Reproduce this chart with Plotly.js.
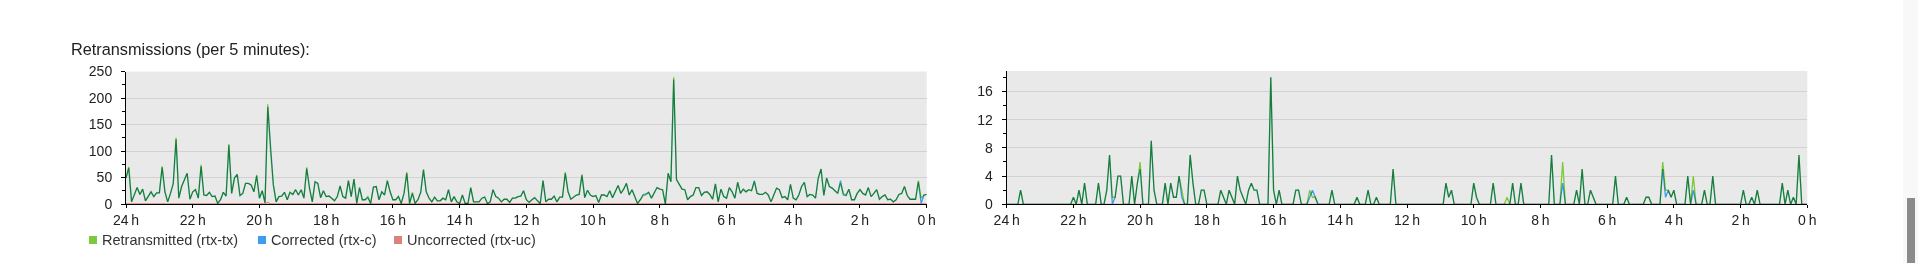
<!DOCTYPE html>
<html><head><meta charset="utf-8">
<script src="https://cdn.plot.ly/plotly-3.0.1.min.js"></script>
<style>
html,body{margin:0;padding:0;background:#fff;overflow:hidden}
#chart{width:1918px;height:263px}
.scatterlayer .trace path.js-line{mix-blend-mode:multiply}
</style></head><body><div id="chart"></div><script>
// ---- data (values per 5-minute sample, from 24 h ago to now) ----
const titleText = "Retransmissions (per 5 minutes):";
const seriesNames = ["Retransmitted (rtx-tx)", "Corrected (rtx-c)", "Uncorrected (rtx-uc)"];
const seriesColors = ["#7cc93a", "#3d9cf0", "#d9837b"];
const xTickVals = [24, 22, 20, 18, 16, 14, 12, 10, 8, 6, 4, 2, 0];
const xTickText = ["24\u2009h", "22\u2009h", "20\u2009h", "18\u2009h", "16\u2009h", "14\u2009h", "12\u2009h", "10\u2009h", "8\u2009h", "6\u2009h", "4\u2009h", "2\u2009h", "0\u2009h"];

const leftTx = [
49,70,4,18,31,18,28,6,14,23,14,21,21,71,23,4,20,39,125,11,33,46,58,9,23,27,11,74,17,16,22,14,15,1,8,22,15,113,20,49,56,16,20,39,39,36,23,55,11,25,2,188,99,36,4,14,15,22,8,22,18,27,17,27,11,69,30,4,42,39,12,25,
14,15,11,6,14,34,14,11,44,14,47,1,31,8,8,14,1,32,33,8,23,17,44,23,8,8,14,1,20,60,1,22,1,8,22,66,23,11,4,13,6,6,11,8,27,4,14,4,1,17,1,1,31,4,4,4,11,13,1,4,27,14,11,4,9,9,3,11,11,14,15,25,
8,3,8,12,6,1,44,4,9,9,15,4,13,13,60,23,9,13,17,18,56,12,26,17,14,16,3,17,17,14,25,12,23,35,20,28,39,17,27,13,1,8,16,17,22,11,20,31,28,27,0,58,42,239,46,36,28,27,8,14,17,31,31,16,22,23,18,9,38,4,28,14,
11,31,23,11,41,20,28,23,27,25,42,20,18,18,22,17,4,17,30,27,12,14,8,37,11,8,17,33,41,14,18,17,11,49,66,16,49,33,30,25,20,39,20,16,28,8,8,20,27,20,17,31,14,20,27,9,14,17,8,9,4,8,18,20,33,16,9,9,9,44,11,17,18
];
const leftC = [
49,68,4,18,31,18,28,6,14,23,14,21,21,69,23,4,20,39,122,11,33,46,58,9,23,27,11,71,17,16,22,14,15,1,8,22,15,111,20,49,56,16,20,39,39,36,23,53,11,25,2,183,99,36,4,14,15,22,8,22,18,27,17,27,11,67,30,4,42,39,12,25,
14,15,11,6,14,34,14,11,44,14,47,1,31,8,8,12,1,32,33,8,23,17,44,23,8,8,14,1,20,58,1,20,1,8,22,64,23,11,4,13,6,6,11,8,27,4,14,4,1,17,1,1,31,4,4,4,11,13,1,4,27,14,11,4,9,9,3,11,11,14,15,25,
8,3,8,12,6,1,44,4,9,9,15,4,13,13,58,23,9,13,17,18,54,12,26,17,14,16,3,17,17,14,25,12,23,35,20,28,39,17,27,13,1,8,18,19,22,11,20,31,28,27,0,58,42,235,46,36,28,27,8,14,17,31,31,16,22,23,18,9,38,4,28,14,
11,31,23,11,41,20,28,23,27,25,44,20,18,18,22,17,4,17,30,27,12,14,8,37,11,8,17,33,41,14,18,17,11,49,66,16,49,33,30,25,20,44,17,16,28,8,8,20,27,20,17,31,14,20,27,9,14,17,8,9,4,8,18,20,33,16,9,9,9,42,1,17,18
];
const leftUc = [
0,0,0,0,0,0,0,0,0,0,0,0,0,0,0,0,0,0,0,0,0,0,0,0,0,0,0,0,0,0,0,0,0,0,0,0,0,0,0,0,0,0,0,0,0,0,0,0,0,0,0,3,0,0,0,0,0,0,0,0,0,0,0,0,0,0,0,0,0,0,0,0,
0,0,0,0,0,0,0,0,0,0,0,0,0,0,0,0,0,0,0,0,0,0,0,0,0,0,0,0,0,0,0,0,0,0,0,0,0,0,0,0,0,0,0,0,0,0,0,0,0,0,0,0,0,0,0,0,0,0,0,0,0,0,0,0,0,0,0,0,0,0,0,0,
0,0,0,0,0,0,0,0,0,0,0,0,0,0,0,0,0,0,0,0,0,0,0,0,0,0,0,0,0,0,0,0,0,0,0,0,0,0,0,0,0,0,0,0,0,0,0,0,0,0,0,0,0,0,0,0,0,0,0,0,0,0,0,0,0,0,0,0,0,0,0,0,
0,0,0,0,0,0,0,0,0,0,0,0,0,0,0,0,0,0,0,0,0,0,0,0,0,0,0,0,0,0,0,0,0,0,0,0,0,0,0,0,0,0,0,0,0,0,0,0,0,0,0,0,0,0,0,0,0,0,0,0,0,0,0,0,0,0,0,0,0,0,0,0,0
];

const rightTx = [
0,0,0,0,0,2,0,0,0,0, 0,0,0,0,0,0,0,0,0,0, 0,0,0,0,1,0,2,0,3,0,
0,0,0,3,0,0,2,7,1,1, 4,4,0,0,0,4,0,3,6,0, 0,0,9,2,0,0,0,3,0,3,
1,1,4,2,0,0,7,3,0,0, 2,2,0,0,0,0,0,2,1,0, 2,1,0,4,2,1,0,2,3,2,
2,0,0,0,0,18,2,0,2,0, 0,0,0,0,2,2,0,0,0,2, 1,1,0,0,0,0,0,2,0,0,
0,0,0,0,0,0,1,0,0,0, 2,0,0,1,0,0,0,0,0,5, 0,0,0,0,0,0,0,0,0,0,
0,0,0,0,0,0,0,0,3,1, 2,0,0,0,0,0,0,0,3,1, 0,0,0,0,0,3,0,0,0,0,
1,0,3,0,0,3,0,0,0,0, 0,0,0,0,0,0,7,0,0,0, 6,0,0,0,0,2,0,5,0,0,
2,1,0,0,0,0,0,0,0,4, 0,0,0,1,0,0,0,0,0,0, 1,1,0,0,0,0,6,2,2,1,
2,0,0,0,0,4,0,4,0,0, 0,2,0,0,4,0,0,0,0,0, 0,0,0,0,0,2,0,0,1,0,
2,0,0,0,0,0,0,0,0,3, 0,2,0,1,0,7,0,0,0
];
const rightC = [
0,0,0,0,0,2,0,0,0,0, 0,0,0,0,0,0,0,0,0,0, 0,0,0,0,1,0,2,0,3,0,
0,0,0,3,0,0,2,7,0,1, 4,4,0,0,0,4,0,3,5,0, 0,0,9,2,0,0,0,3,0,3,
1,1,4,1,0,0,7,3,0,0, 2,2,0,0,0,0,0,2,1,0, 2,1,0,4,2,1,0,2,3,2,
2,0,0,0,0,18,2,0,2,0, 0,0,0,0,2,2,0,0,0,1, 2,1,0,0,0,0,0,2,0,0,
0,0,0,0,0,0,1,0,0,0, 2,0,0,1,0,0,0,0,0,5, 0,0,0,0,0,0,0,0,0,0,
0,0,0,0,0,0,0,0,3,1, 2,0,0,0,0,0,0,0,3,1, 0,0,0,0,0,3,0,0,0,0,
0,0,3,0,0,3,0,0,0,0, 0,0,0,0,0,0,7,0,0,0, 3,0,0,0,0,2,0,5,0,0,
2,1,0,0,0,0,0,0,0,4, 0,0,0,1,0,0,0,0,0,0, 1,1,0,0,0,0,5,1,2,1,
2,0,0,0,0,4,0,2,0,0, 0,2,0,0,4,0,0,0,0,0, 0,0,0,0,0,2,0,0,1,0,
2,0,0,0,0,0,0,0,0,3, 0,2,0,1,0,7,0,0,0
];
const rightUc = [
0,0,0,0,0,0,0,0,0,0, 0,0,0,0,0,0,0,0,0,0, 0,0,0,0,0,0,0,0,0,0,
0,0,0,0,0,0,0,0,0,0, 0,0,0,0,0,0,0,0,0,0, 0,0,0,0,0,0,0,0,0,0,
0,0,0,0,0,0,0,0,0,0, 0,0,0,0,0,0,0,0,0,0, 0,0,0,0,0,0,0,0,0,0,
0,0,0,0,0,0,0,0,0,0, 0,0,0,0,0,0,0,0,0,0, 0,0,0,0,0,0,0,0,0,0,
0,0,0,0,0,0,0,0,0,0, 0,0,0,0,0,0,0,0,0,0, 0,0,0,0,0,0,0,0,0,0,
0,0,0,0,0,0,0,0,0,0, 0,0,0,0,0,0,0,0,0,0, 0,0,0,0,0,0,0,0,0,0,
0,0,0,0,0,0,0,0,0,0, 0,0,0,0,0,0,0,0,0,0, 0,0,0,0,0,0,0,0,0,0,
0,0,0,0,0,0,0,0,0,0, 0,0,0,0,0,0,0,0,0,0, 0,0,0,0,0,0,0,0,0,0,
0,0,0,0,0,0,0,0,0,0, 0,0,0,0,0,0,0,0,0,0, 0,0,0,0,0,0,0,0,0,0,
0,0,0,0,0,0,0,0,0,0, 0,0,0,0,0,0,0,0,0
];

// ---- layout helpers ----
const W = 1918, H = 263;
const px = v => v / W;
const py = v => 1 - v / H;
const hoursOf = arr => arr.map((_, i) => 24 - i / 12);

const FONT = '"Liberation Sans", Arial, sans-serif';

function traces(tx, c, uc, xa, ya) {
  const x = hoursOf(tx);
  return [tx, c, uc].map((y, k) => ({
    type: 'scatter', mode: 'lines', x: x, y: y, xaxis: xa, yaxis: ya,
    name: seriesNames[k], showlegend: false, hoverinfo: 'skip',
    line: {color: seriesColors[k], width: 1.3, shape: 'linear'}
  }));
}

const data = [
  ...traces(leftTx, leftC, leftUc, 'x', 'y'),
  ...traces(rightTx, rightC, rightUc, 'x2', 'y2')
];

function xAxis(domain, anchor) {
  return {
    domain: domain, anchor: anchor, range: [24, 0], autorange: false,
    tickmode: 'array', tickvals: xTickVals, ticktext: xTickText,
    ticks: 'outside', ticklen: 3, tickwidth: 1, tickcolor: '#000',
    showline: true, linecolor: '#000', linewidth: 1,
    showgrid: false, zeroline: false, ticklabelstandoff: 0,
    tickfont: {family: FONT, size: 14, color: '#222'}, fixedrange: true
  };
}
function yAxis(domain, anchor, range, dtick, minor) {
  return {
    domain: domain, anchor: anchor, range: range, autorange: false,
    tickmode: 'linear', tick0: 0, dtick: dtick,
    ticks: 'outside', ticklen: 4, tickwidth: 1, tickcolor: '#000',
    minor: {dtick: minor, tick0: 0, ticks: 'outside', ticklen: 3, tickcolor: '#000', showgrid: false},
    showline: true, linecolor: '#000', linewidth: 1,
    showgrid: true, gridcolor: '#d2d2d2', gridwidth: 1, zeroline: false,
    ticklabelstandoff: 6,
    tickfont: {family: FONT, size: 14, color: '#222'}, fixedrange: true
  };
}

const legendX = [89, 258, 394];
const shapes = [];
const annotations = [{
  text: titleText, xref: 'paper', yref: 'paper', x: px(69), y: py(49),
  xanchor: 'left', yanchor: 'middle', showarrow: false,
  font: {family: FONT, size: 16.3, color: '#222'}
}];
legendX.forEach((lx, k) => {
  shapes.push({type: 'rect', xref: 'paper', yref: 'paper',
    x0: px(lx), x1: px(lx + 8), y0: py(244), y1: py(236),
    fillcolor: seriesColors[k], line: {width: 0}});
  annotations.push({text: seriesNames[k], xref: 'paper', yref: 'paper',
    x: px(lx + 11), y: py(240), xanchor: 'left', yanchor: 'middle', showarrow: false,
    font: {family: FONT, size: 14.5, color: '#333'}});
});
// browser scrollbar at right edge
shapes.push({type: 'rect', xref: 'paper', yref: 'paper', x0: px(1903), x1: px(1918), y0: 0, y1: 1,
  fillcolor: '#f8f8f8', line: {width: 0}, layer: 'below'});
shapes.push({type: 'rect', xref: 'paper', yref: 'paper', x0: px(1907), x1: px(1915), y0: 0, y1: py(198),
  fillcolor: '#8b8b8b', line: {width: 0}});

const layout = {
  width: W, height: H, margin: {l: 0, r: 0, t: 0, b: 0},
  paper_bgcolor: '#fff', plot_bgcolor: '#e9e9e9',
  font: {family: FONT, size: 14, color: '#222'},
  showlegend: false,
  xaxis: xAxis([px(126), px(926.7)], 'y'),
  yaxis: yAxis([py(204), py(71.5)], 'x', [0, 250], 50, 25),
  xaxis2: xAxis([px(1006.7), px(1807.3)], 'y2'),
  yaxis2: yAxis([py(204.3), py(71)], 'x2', [0, 18.9], 4, 2),
  shapes: shapes, annotations: annotations
};

Plotly.newPlot('chart', data, layout, {displayModeBar: false, staticPlot: true});
</script></body></html>
